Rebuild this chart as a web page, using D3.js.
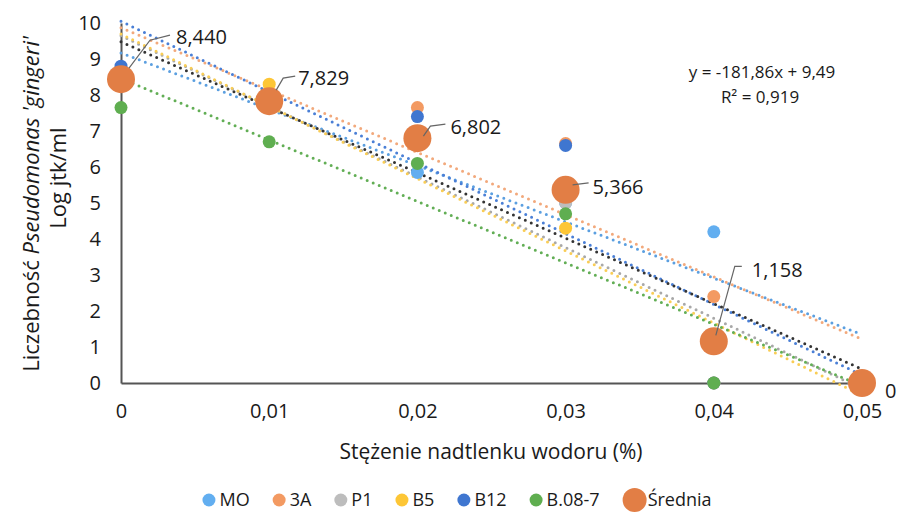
<!DOCTYPE html>
<html>
<head>
    <meta charset="utf-8">
    <title>Liczebność Pseudomonas gingeri</title>
    <script src="https://d3js.org/d3.v7.min.js"></script>
    <style>
        body { margin: 0; background: #fff; }
        text { font-family: "Open Sans", Lato, sans-serif; fill: #1a1a1a; }
        .tick-label { font-size: 20px; }
        .axis-title { font-size: 21px; }
        .y-title { font-size: 22px; }
        .point-label { font-size: 20px; }
        .eq { font-size: 17px; }
        .legend text { font-size: 18px; }
    </style>
</head>
<body>
    <div id="graph"></div>
    <script>
        // stężenie H2O2 (%)
        const concentrations = [0, 0.01, 0.02, 0.03, 0.04, 0.05];
        const xTicks = [0, 0.01, 0.02, 0.03, 0.04, 0.05];
        const yTicks = [0, 1, 2, 3, 4, 5, 6, 7, 8, 9, 10];

        // log jtk/ml per strain
        const MO = [8.5, 8.0, 5.85, 5.0, 4.2, 0];
        const A3 = [8.55, 8.0, 7.65, 6.65, 2.4, 0];
        const P1 = [8.55, 8.0, 6.9, 5.0, 0, 0];
        const B5 = [8.55, 8.3, 6.9, 4.3, 0, 0];
        const B12 = [8.8, 8.0, 7.4, 6.6, 0, 0];
        const B087 = [7.65, 6.7, 6.1, 4.7, 0, 0];
        const srednia = [8.440, 7.829, 6.802, 5.366, 1.158, 0];

        // trendline equation of the mean, as printed on the chart
        const equationText = 'y = -181,86x + 9,49';
        const r2Text = 'R² = 0,919';

        const series = [
            { name: 'MO', values: MO, color: '#62aef0', trend: '#5b9fe0', r: 6.5 },
            { name: '3A', values: A3, color: '#f39a62', trend: '#f2a97c', r: 6.5 },
            { name: 'P1', values: P1, color: '#bdbdbd', trend: '#a8a8a8', r: 6.5 },
            { name: 'B5', values: B5, color: '#fdc636', trend: '#f9cd55', r: 6.5 },
            { name: 'B12', values: B12, color: '#3f76d0', trend: '#4a7fd6', r: 6.5 },
            { name: 'B.08-7', values: B087, color: '#5fae50', trend: '#62ae55', r: 6.5 },
            { name: 'Średnia', values: srednia, color: '#e27e45', trend: '#333333', r: 14 }
        ];

        // label placement for the mean values (offset from marker, leader points)
        const labelOffsets = [
            { dx: 55, dy: -42, leader: [[8, -11], [29, -39], [49, -44]] },
            { dx: 29, dy: -23, leader: [[7, -11], [14, -23], [26, -25]] },
            { dx: 33, dy: -11, leader: [[6, -2], [13, -12], [28, -14]] },
            { dx: 27, dy: -3, leader: [[7, -5], [23, -7]] },
            { dx: 38, dy: -71, leader: [[2, -6], [21, -75], [28, -75]] },
            { dx: 23, dy: 8, leader: [] }
        ];

        const width = 899, height = 524;
        const svg = d3.select('#graph').append('svg')
            .attr('width', width)
            .attr('height', height);

        const x = d3.scaleLinear().domain([0, 0.05]).range([121, 862]);
        const y = d3.scaleLinear().domain([0, 10]).range([383, 23]);
        const fmt = v => v === 0 ? '0' : v.toFixed(3).replace('.', ',');
        const fmtTick = v => v === 0 ? '0' : String(+v.toFixed(2)).replace('.', ',');

        // axes: only the lines and labels, no tick marks
        svg.append('g')
            .attr('transform', 'translate(0,' + y(0) + ')')
            .call(d3.axisBottom(x).tickValues(xTicks).tickSize(0).tickPadding(21).tickFormat(fmtTick))
            .call(g => g.select('.domain').attr('stroke', '#555').attr('stroke-width', 2))
            .call(g => g.selectAll('text').attr('class', 'tick-label').attr('fill', '#1a1a1a').style('font-family', '"Open Sans"'));

        svg.append('g')
            .attr('transform', 'translate(' + x(0) + ',0)')
            .call(d3.axisLeft(y).tickValues(yTicks).tickSize(0).tickPadding(20).tickFormat(d3.format('d')))
            .call(g => g.select('.domain').attr('stroke', '#555').attr('stroke-width', 2))
            .call(g => g.selectAll('text').attr('class', 'tick-label').attr('fill', '#1a1a1a').style('font-family', '"Open Sans"'));

        // linear trendlines (least squares)
        function fit(xs, ys) {
            const mx = d3.mean(xs), my = d3.mean(ys);
            const sxy = d3.sum(xs, (v, i) => (v - mx) * (ys[i] - my));
            const sxx = d3.sum(xs, v => (v - mx) * (v - mx));
            const slope = sxy / sxx;
            return { slope: slope, intercept: my - slope * mx };
        }

        const line = d3.line().x(d => x(d[0])).y(d => y(d[1]));
        series.forEach(s => {
            const f = fit(concentrations, s.values);
            const x0 = d3.min(concentrations), x1 = d3.max(concentrations);
            svg.append('path')
                .attr('d', line([[x0, f.intercept + f.slope * x0], [x1, f.intercept + f.slope * x1]]))
                .attr('fill', 'none')
                .attr('stroke', s.trend)
                .attr('stroke-width', 3)
                .attr('stroke-linecap', 'round')
                .attr('stroke-dasharray', '0 6.5');
        });

        // markers
        series.forEach(s => {
            svg.append('g').selectAll('circle')
                .data(s.values)
                .join('circle')
                .attr('cx', (d, i) => x(concentrations[i]))
                .attr('cy', d => y(d))
                .attr('r', s.r)
                .attr('fill', s.color);
        });

        // data labels for the mean
        const labels = svg.append('g');
        srednia.forEach((v, i) => {
            const cx = x(concentrations[i]), cy = y(v);
            const o = labelOffsets[i];
            if (o.leader.length) {
                labels.append('polyline')
                    .attr('points', o.leader.map(p => (cx + p[0]) + ',' + (cy + p[1])).join(' '))
                    .attr('fill', 'none')
                    .attr('stroke', '#666')
                    .attr('stroke-width', 1.2);
            }
            labels.append('text')
                .attr('class', 'point-label')
                .attr('x', cx + o.dx)
                .attr('y', cy + o.dy)
                .attr('dy', '0.35em')
                .text(fmt(v));
        });

        // trendline equation
        const eq = svg.append('g').attr('class', 'eq');
        eq.append('text').attr('x', 762).attr('y', 78).attr('text-anchor', 'middle').text(equationText);
        eq.append('text').attr('x', 760).attr('y', 103).attr('text-anchor', 'middle').text(r2Text);

        // axis titles
        svg.append('text')
            .attr('class', 'y-title')
            .attr('transform', 'translate(39,204) rotate(-90)')
            .attr('text-anchor', 'middle')
            .call(t => {
                t.append('tspan').text('Liczebność ');
                t.append('tspan').attr('font-style', 'italic').text("Pseudomonas 'gingeri'");
            });
        svg.append('text')
            .attr('class', 'y-title')
            .attr('transform', 'translate(66,178) rotate(-90)')
            .attr('text-anchor', 'middle')
            .text('Log jtk/ml');

        svg.append('text')
            .attr('class', 'axis-title')
            .attr('x', 491)
            .attr('y', 459)
            .attr('text-anchor', 'middle')
            .text('Stężenie nadtlenku wodoru (%)');

        // legend
        const legend = svg.append('g').attr('class', 'legend');
        const gap = 23;
        let lx = 0;
        series.forEach(s => {
            const g = legend.append('g');
            const big = s.name === 'Średnia';
            const rr = big ? 12 : 6.5;
            g.append('circle').attr('cx', lx + rr).attr('cy', 0).attr('r', rr).attr('fill', s.color);
            const t = g.append('text').attr('x', lx + 2 * rr + (big ? 1 : 4)).attr('y', 0).attr('dy', '0.35em').text(s.name);
            lx += 2 * rr + (big ? 1 : 4) + t.node().getComputedTextLength() + gap;
        });
        const total = lx - gap;
        legend.attr('transform', 'translate(' + (457 - total / 2) + ',500)');
    </script>
</body>
</html>
